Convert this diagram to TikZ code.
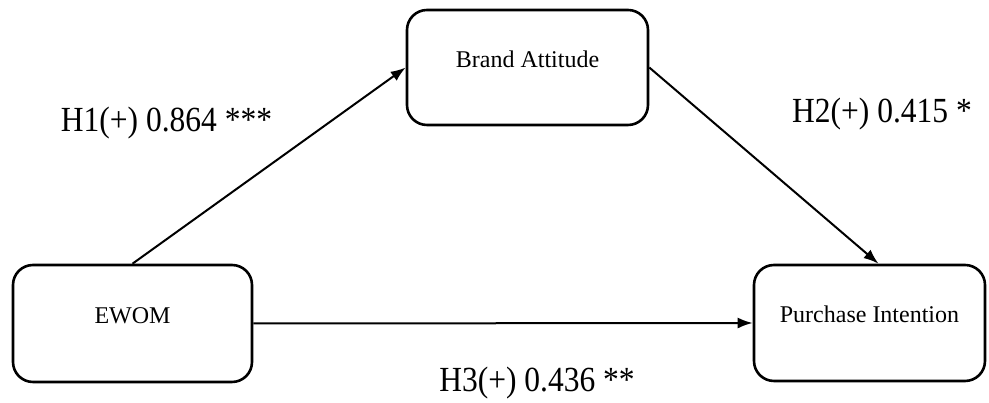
\documentclass[tikz,border=0pt]{standalone}
\usepackage{fontspec}
\setmainfont{Liberation Serif}
\usetikzlibrary{arrows.meta, positioning}
\tikzset{
    construct/.style={draw, line width=2.6pt, rounded corners=20pt, inner sep=0pt,
        font=\fontsize{24}{28}\selectfont, text height=2ex, text depth=2ex},
    effect/.style={->, >={Latex[length=15pt, width=11pt]}, line width=2pt},
    coef/.style={anchor=base, yscale=1.12, transform shape, font=\fontsize{31.5}{36}\selectfont}
}

\begin{document}
\begin{tikzpicture}[x=1pt, y=1pt]
    \useasboundingbox (0,0) rectangle (989,403);
    % Constructs
    \node[construct, minimum width=241pt, minimum height=115pt] (attitude) at (527.5,335.5) {Brand Attitude};
    \node[construct, minimum width=239pt, minimum height=117pt] (ewom) at (132.5,79.5) {EWOM};
    \node[construct, minimum width=231pt, minimum height=116pt] (intention) at (869.5,80) {Purchase Intention};
    % Paths
    \draw[effect] (ewom.north) -- (attitude.west);
    \draw[effect] (attitude.east) -- ([xshift=9pt]intention.north);
    \draw[effect] (ewom.east) -- (intention.west);
    % Coefficients
    \node[coef] (h1) at (166.5,271) {H1(+) 0.864 ***};
    \node[coef] (h2) at (882,280) {H2(+) 0.415 *};
    \node[coef] (h3) at (537,11) {H3(+) 0.436 **};
\end{tikzpicture}
\end{document}
